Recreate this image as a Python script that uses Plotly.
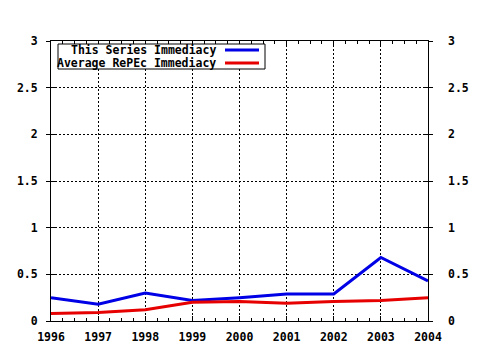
import plotly.graph_objects as go

years = [1996, 1997, 1998, 1999, 2000, 2001, 2002, 2003, 2004]
series_immediacy = [0.25, 0.18, 0.30, 0.22, 0.25, 0.29, 0.29, 0.68, 0.43]
repec_immediacy = [0.08, 0.09, 0.12, 0.20, 0.21, 0.19, 0.21, 0.22, 0.25]
legend_labels = ["This Series Immediacy", "Average RePEc Immediacy"]
colors = ["#0000e6", "#e60000"]

W, H = 480, 350
L, R, T, B = 51, 52, 41, 29
pw, ph = W - L - R, H - T - B

def px(x):
    return (x - L) / pw

def py(y):
    return 1 - (y - T) / ph

font = dict(family="DejaVu Sans Mono", size=11.5, color="black", weight="bold")

fig = go.Figure()
fig.add_trace(go.Scatter(x=years, y=series_immediacy, mode="lines",
                         line=dict(color=colors[0], width=3), showlegend=False))
fig.add_trace(go.Scatter(x=years, y=repec_immediacy, mode="lines",
                         line=dict(color=colors[1], width=3), showlegend=False))
fig.add_trace(go.Scatter(x=years, y=repec_immediacy, yaxis="y2", mode="lines",
                         line=dict(width=0), opacity=0, showlegend=False, hoverinfo="skip"))

fig.update_layout(
    width=W, height=H,
    margin=dict(l=L, r=R, t=T, b=B, pad=0, autoexpand=False),
    paper_bgcolor="white", plot_bgcolor="white",
    font=font,
    xaxis=dict(range=[1996, 2004], dtick=1, tick0=1996, showgrid=True, automargin=False,
               gridcolor="black", griddash="2px,2px", gridwidth=1,
               showline=True, linecolor="black", linewidth=1, mirror="ticks",
               ticks="inside", ticklen=5, tickcolor="black", zeroline=False,
               ticklabelstandoff=5, tickfont=font,
               minor=dict(ticks="inside", dtick=0.25, ticklen=3, tickcolor="black", showgrid=False)),
    yaxis=dict(range=[0, 3], dtick=0.5, showgrid=True, automargin=False,
               gridcolor="black", griddash="2px,2px", gridwidth=1,
               showline=True, linecolor="black", linewidth=1, mirror="ticks",
               ticks="outside", ticklen=4, tickcolor="black", zeroline=False,
               ticklabelstandoff=6, tickfont=font),
    yaxis2=dict(range=[0, 3], dtick=0.5, overlaying="y", side="right", automargin=False,
                showgrid=False, showline=False, mirror="ticks",
                ticks="inside", ticklen=4, tickcolor="black", zeroline=False,
                ticklabelstandoff=19, tickfont=font),
)

# legend box
fig.add_shape(type="rect", xref="paper", yref="paper",
              x0=px(58), x1=px(265), y0=py(69), y1=py(44),
              line=dict(color="black", width=1), fillcolor="white", layer="above")
for i, (lab, col, yy) in enumerate(zip(legend_labels, colors, [50, 63])):
    fig.add_shape(type="line", xref="paper", yref="paper",
                  x0=px(225), x1=px(259), y0=py(yy), y1=py(yy),
                  line=dict(color=col, width=3), layer="above")
    fig.add_annotation(xref="paper", yref="paper", x=px(218), y=py(yy),
                       text=lab, showarrow=False, xanchor="right", yanchor="middle",
                       font=font)

fig.write_html("out.html")
